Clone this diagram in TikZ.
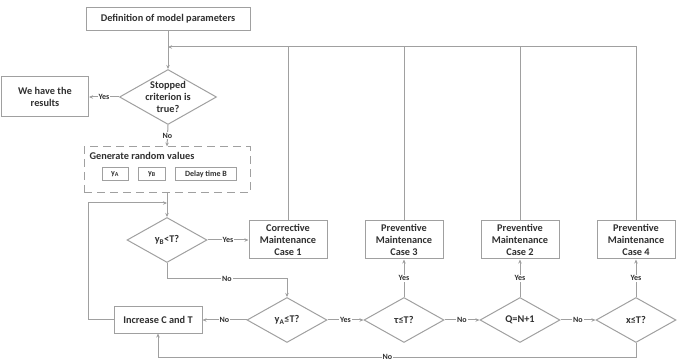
\documentclass[tikz,border=0pt]{standalone}
\usepackage{fontspec}
\setmainfont{Carlito}
\usetikzlibrary{shapes.geometric,arrows.meta}
\definecolor{linegray}{HTML}{A0A0A0}
\definecolor{textgray}{HTML}{303030}

\begin{document}
\begin{tikzpicture}[x=1pt, y=-1pt,
    every node/.style={align=center, text=textgray, font=\bfseries\fontsize{10.3}{12.3}\selectfont},
    box/.style={draw=linegray, line width=1pt, fill=white, minimum width=78pt, minimum height=38pt, inner sep=1pt},
    dec/.style={diamond, draw=linegray, line width=1pt, fill=white, minimum width=80pt, minimum height=45pt, inner sep=0pt},
    small/.style={draw=linegray, line width=0.8pt, minimum height=13pt, inner sep=1pt, font=\bfseries\fontsize{8}{9}\selectfont},
    lbl/.style={fill=white, inner sep=0.8pt, font=\bfseries\fontsize{8}{9}\selectfont},
    wire/.style={draw=linegray, line width=1pt},
    arr/.style={wire, -{Stealth[length=4pt, width=3.5pt]}}]
      \useasboundingbox (0,0) rectangle (680,363);

      % Start and stop test
      \node (param) [box, minimum width=164pt, minimum height=23pt] at (168,19) {Definition of model parameters};
      \node (stop) [dec, minimum width=97pt, minimum height=55pt, label={center:Stopped\\criterion is\\true?}] at (168,97) {};
      \node (res) [box, minimum width=87pt, minimum height=40pt] at (45,97) {We have the\\results};
      \coordinate (fb) at (168,47);
      \draw[wire] (param.south) -- (fb);
      \draw[arr] (fb) -- (stop.north);
      \draw[arr] (stop.west) -- node[lbl] {Yes} (res.east);

      % Random values
      \node (grp) [draw=linegray, line width=1pt, dash pattern=on 8pt off 5pt, minimum width=166pt, minimum height=46pt] at (167,170) {};
      \node (gtitle) [anchor=west] at (86,156) {Generate random values};
      \node (ya) [small, minimum width=26pt] at (115,174) {y\textsubscript{A}};
      \node (yb) [small, minimum width=27pt] at (152,174) {y\textsubscript{B}};
      \node (dly) [small, minimum width=61pt] at (206,174) {Delay time B};
      \draw[arr] (stop.south) -- node[lbl] {No} (grp.north);

      % Tests
      \node (ybt) [dec, label={center:y\textsubscript{B}<T?}] at (167,240) {};
      \node (corr) [box] at (288,240) {Corrective\\Maintenance\\Case 1};
      \node (yat) [dec, label={center:y\textsubscript{A}≤T?}] at (287,320) {};
      \node (inc) [box, minimum width=88pt, minimum height=26pt] at (158,320) {Increase C and T};
      \node (tau) [dec, label={center:τ≤T?}] at (404,320) {};
      \node (case3) [box] at (404,240) {Preventive\\Maintenance\\Case 3};
      \node (q) [dec, label={center:Q=N+1}] at (520,320) {};
      \node (case2) [box] at (520,240) {Preventive\\Maintenance\\Case 2};
      \node (xd) [dec, label={center:x≤T?}] at (636,320) {};
      \node (case4) [box] at (636,240) {Preventive\\Maintenance\\Case 4};
      \coordinate (lp) at (167,203);

      \draw[arr] (grp.south) -- (ybt.north);
      \draw[arr] (ybt.east) -- node[lbl] {Yes} (corr.west);
      \draw[arr] (ybt.south) -- ++(0,16) -| node[lbl, pos=0.25] {No} (yat.north);
      \draw[arr] (yat.west) -- node[lbl] {No} (inc.east);
      \draw[arr] (yat.east) -- node[lbl] {Yes} (tau.west);
      \draw[arr] (tau.east) -- node[lbl] {No} (q.west);
      \draw[arr] (q.east) -- node[lbl] {No} (xd.west);
      \draw[arr] (tau.north) -- node[lbl] {Yes} (case3.south);
      \draw[arr] (q.north) -- node[lbl] {Yes} (case2.south);
      \draw[arr] (xd.north) -- node[lbl] {Yes} (case4.south);
      \draw[arr] (inc.west) -- ++(-25,0) |- (lp);
      \draw[arr] (xd.south) -- ++(0,14) -| node[lbl, pos=0.26] {No} (inc.south);

      % Back to the stop test
      \draw[arr] (case4.north) |- (fb);
      \draw[wire] (corr.north) -- (corr.north |- fb);
      \draw[wire] (case3.north) -- (case3.north |- fb);
      \draw[wire] (case2.north) -- (case2.north |- fb);
    \end{tikzpicture}
\end{document}
